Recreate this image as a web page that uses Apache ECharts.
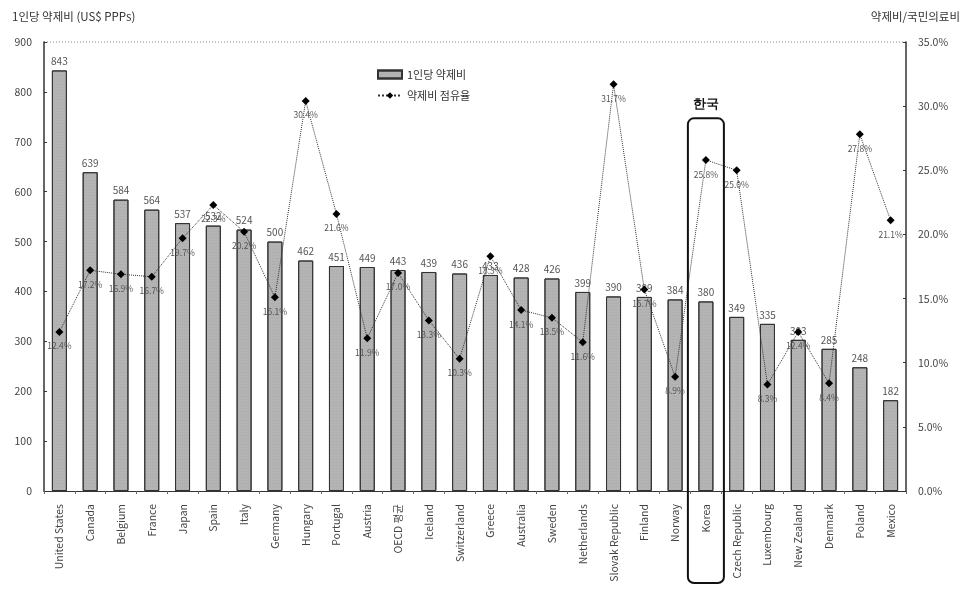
<!DOCTYPE html>
<html>
<head>
<meta charset="utf-8">
<script src="https://cdn.jsdelivr.net/npm/echarts@6/dist/echarts.min.js"></script>
<style>html,body{margin:0;padding:0;background:#fff;}#c{width:964px;height:594px;}</style>
</head>
<body>
<div id="c"></div>
<script>
const categories = ['United States','Canada','Belgium','France','Japan','Spain','Italy','Germany','Hungary','Portugal','Austria','OECD 평균','Iceland','Switzerland','Greece','Australia','Sweden','Netherlands','Slovak Republic','Finland','Norway','Korea','Czech Republic','Luxembourg','New Zealand','Denmark','Poland','Mexico'];
const spending = [843,639,584,564,537,532,524,500,462,451,449,443,439,436,433,428,426,399,390,389,384,380,349,335,303,285,248,182];
const share = [12.4,17.2,16.9,16.7,19.7,22.3,20.2,15.1,30.4,21.6,11.9,17.0,13.3,10.3,18.3,14.1,13.5,11.6,31.7,15.7,8.9,25.8,25.0,8.3,12.4,8.4,27.8,21.1];
const leftTicks = {min:0, max:900, interval:100};
const rightTicks = {min:0, max:35, interval:5};

const chart = echarts.init(document.getElementById('c'));
const txt = '#444';
chart.setOption({
  animation:false,
  textStyle:{fontFamily:'"Noto Sans CJK KR", "DejaVu Sans", sans-serif'},
  grid:{left:44, right:58, top:42, bottom:103, show:true, borderColor:'#999', borderWidth:0},
  legend:{
    orient:'vertical', left:372, top:64, itemGap:10, itemWidth:24, itemHeight:8,
    textStyle:{fontSize:11, color:'#333'},
    data:[{name:'1인당 약제비', icon:'rect'},{name:'약제비 점유율'}]
  },
  xAxis:{
    type:'category', data:categories,
    axisLine:{lineStyle:{color:'#333', width:1}},
    axisTick:{show:true, length:3, lineStyle:{color:'#666'}},
    axisLabel:{rotate:90, fontSize:10.5, color:txt, margin:13, interval:0}
  },
  yAxis:[{
    type:'value', min:leftTicks.min, max:leftTicks.max, interval:leftTicks.interval,
    name:'1인당 약제비 (US$ PPPs)', nameLocation:'end', nameGap:20,
    nameTextStyle:{fontSize:11.5, color:'#333', align:'left', padding:[0,0,0,-32]},
    axisLine:{show:true, lineStyle:{color:'#333', width:1.5}},
    axisTick:{show:true, length:3, inside:true, lineStyle:{color:'#333'}},
    axisLabel:{fontSize:10.5, color:txt, margin:12},
    splitLine:{show:false}
  },{
    type:'value', min:rightTicks.min, max:rightTicks.max, interval:rightTicks.interval,
    name:'약제비/국민의료비', nameLocation:'end', nameGap:20,
    nameTextStyle:{fontSize:11.5, color:'#333', align:'right', padding:[0,-54,0,0]},
    axisLine:{show:true, lineStyle:{color:'#333', width:1.5}},
    axisTick:{show:true, length:3, inside:true, lineStyle:{color:'#333'}},
    axisLabel:{fontSize:10.5, color:txt, margin:12, formatter:v=>v.toFixed(1)+'%'},
    splitLine:{show:false}
  }],
  series:[{
    name:'1인당 약제비', type:'bar', data:spending, barWidth:15, yAxisIndex:0,
    itemStyle:{color:'#b4b4b4', borderColor:'#333', borderWidth:1,
      decal:{symbol:'rect', symbolSize:0.5, dashArrayX:[1,1], dashArrayY:[1,2], color:'rgba(90,90,90,0.35)', rotation:0}},
    label:{show:true, position:'top', fontSize:10, color:'#555', distance:4}
  },{
    name:'약제비 점유율', type:'line', data:share, yAxisIndex:1,
    symbol:'diamond', symbolSize:8,
    lineStyle:{color:'#333', width:1, type:'dotted'},
    itemStyle:{color:'#000'},
    label:{show:true, position:'bottom', fontSize:8.5, color:'#555', distance:6, formatter:p=>p.value.toFixed(1)+'%'}
  }]
});

const gTopY = chart.convertToPixel({yAxisIndex:0}, leftTicks.max);
const gLeft = chart.convertToPixel({xAxisIndex:0}, categories[0]) - 15.4;
const gRight = chart.convertToPixel({xAxisIndex:0}, categories[categories.length-1]) + 15.4;
const kx = chart.convertToPixel({xAxisIndex:0}, 'Korea');
const ktop = chart.convertToPixel({yAxisIndex:0}, 747);
const zeroY = chart.convertToPixel({yAxisIndex:0}, 0);
chart.setOption({
  graphic:[
    {type:'line', shape:{x1:gLeft, y1:gTopY, x2:gRight, y2:gTopY}, style:{stroke:'#888', lineWidth:1, lineDash:[1,2]}, silent:true},
    {type:'rect', shape:{x:kx-18, y:ktop, width:36, height:zeroY+92-ktop, r:6}, style:{fill:'none', stroke:'#111', lineWidth:2}, silent:true, z:100},
    {type:'text', x:kx, y:ktop-20, style:{text:'한국', fontSize:13, fontWeight:'bold', fill:'#111', textAlign:'center', font:'bold 13px "Noto Sans CJK KR"'}, silent:true, z:100}
  ]
});
</script>
</body>
</html>
